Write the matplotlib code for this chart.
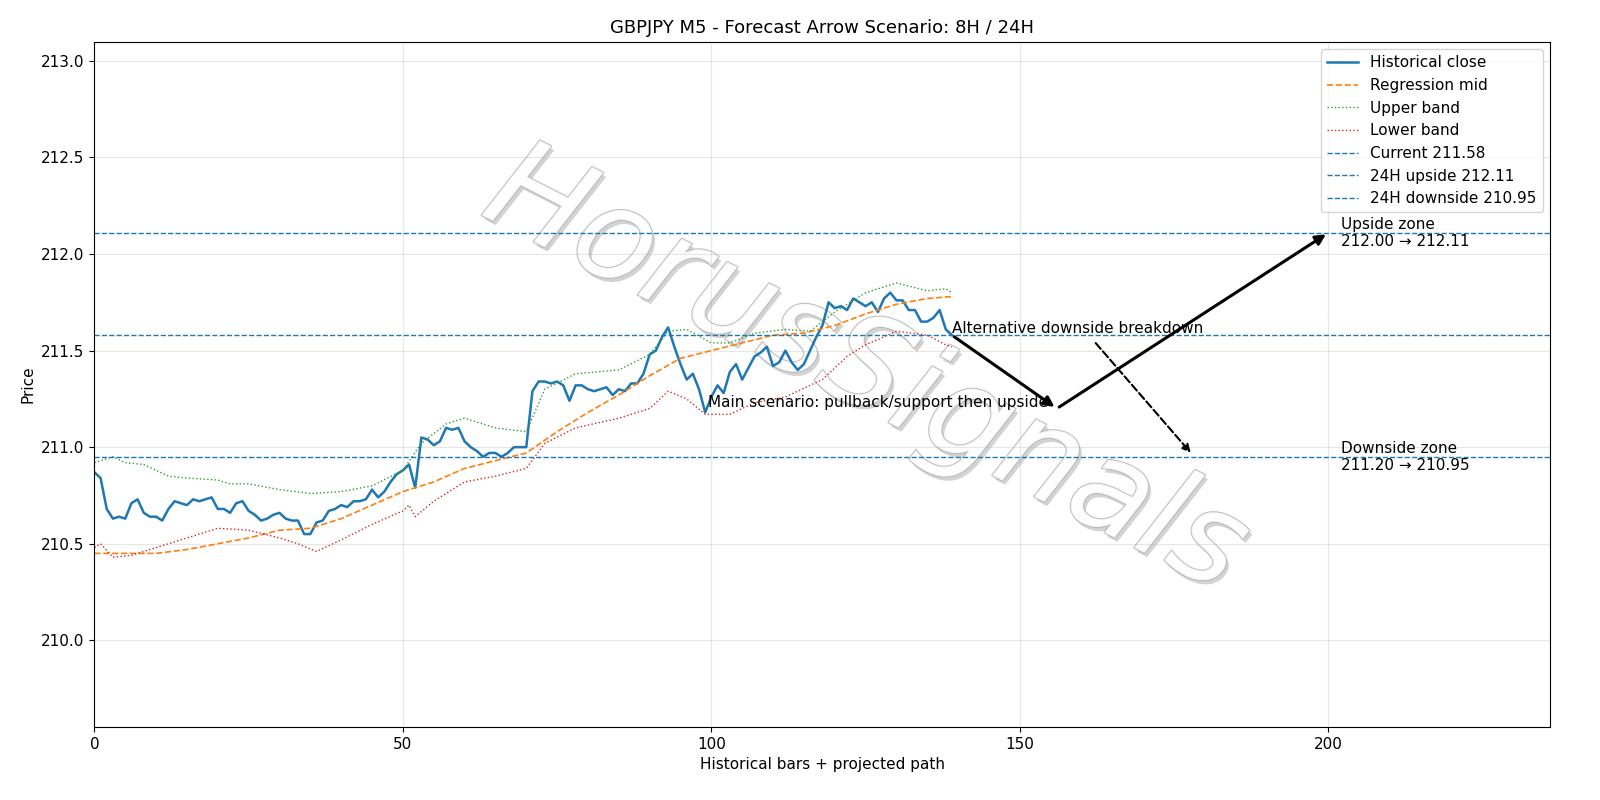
import matplotlib
matplotlib.use("Agg")
import matplotlib.pyplot as plt
import matplotlib.patheffects as pe

close = [210.87, 210.84, 210.68, 210.63, 210.64, 210.63, 210.71, 210.73, 210.66, 210.64,
         210.64, 210.62, 210.68, 210.72, 210.71, 210.70, 210.73, 210.72, 210.73, 210.74,
         210.68, 210.68, 210.66, 210.71, 210.72, 210.67, 210.65, 210.62, 210.63, 210.65,
         210.66, 210.63, 210.62, 210.62, 210.55, 210.55, 210.61, 210.62, 210.67, 210.68,
         210.70, 210.69, 210.72, 210.72, 210.73, 210.78, 210.74, 210.77, 210.82, 210.86,
         210.88, 210.91, 210.79, 211.05, 211.04, 211.01, 211.03, 211.10, 211.09, 211.10,
         211.03, 211.00, 210.98, 210.95, 210.97, 210.97, 210.95, 210.97, 211.00, 211.00,
         211.00, 211.29, 211.34, 211.34, 211.33, 211.34, 211.32, 211.24, 211.32, 211.32,
         211.30, 211.29, 211.30, 211.31, 211.27, 211.30, 211.29, 211.33, 211.33, 211.38,
         211.48, 211.50, 211.57, 211.62, 211.52, 211.43, 211.35, 211.38, 211.30, 211.18,
         211.26, 211.32, 211.28, 211.39, 211.43, 211.35, 211.41, 211.47, 211.49, 211.52,
         211.42, 211.44, 211.50, 211.44, 211.40, 211.43, 211.50, 211.57, 211.63, 211.75,
         211.72, 211.73, 211.71, 211.77, 211.75, 211.73, 211.75, 211.70, 211.77, 211.80,
         211.76, 211.76, 211.71, 211.71, 211.65, 211.65, 211.67, 211.71, 211.61, 211.58]

mid_x = [0, 5, 10, 15, 20, 25, 30, 35, 40, 45, 50, 55, 60, 65, 70, 75, 80, 85, 90, 95,
         100, 105, 110, 115, 120, 125, 130, 135, 139]
mid_y = [210.45, 210.45, 210.45, 210.47, 210.50, 210.53, 210.57, 210.58, 210.63, 210.70,
         210.77, 210.82, 210.89, 210.93, 210.97, 211.08, 211.18, 211.27, 211.37, 211.46,
         211.50, 211.54, 211.58, 211.59, 211.63, 211.69, 211.74, 211.77, 211.78]

up_x = [0, 3, 5, 8, 12, 15, 20, 22, 25, 30, 35, 40, 45, 50, 53, 57, 60, 65, 70, 73, 78,
        85, 90, 93, 96, 100, 103, 107, 112, 116, 120, 125, 130, 135, 138, 139]
up_y = [210.92, 210.95, 210.92, 210.91, 210.85, 210.84, 210.83, 210.81, 210.81, 210.78,
        210.76, 210.77, 210.80, 210.88, 211.02, 211.12, 211.15, 211.10, 211.08, 211.30,
        211.38, 211.40, 211.48, 211.60, 211.61, 211.54, 211.54, 211.59, 211.61, 211.60,
        211.70, 211.80, 211.85, 211.81, 211.82, 211.80]

lo_x = [0, 1, 3, 6, 10, 15, 20, 25, 30, 33, 36, 40, 45, 50, 51, 52, 55, 60, 65, 70, 73,
        78, 85, 90, 93, 96, 99, 103, 107, 112, 118, 122, 125, 130, 135, 138, 139]
lo_y = [210.48, 210.50, 210.43, 210.44, 210.48, 210.53, 210.58, 210.57, 210.53, 210.50,
        210.46, 210.52, 210.60, 210.67, 210.70, 210.64, 210.72, 210.82, 210.85, 210.89,
        211.02, 211.10, 211.15, 211.20, 211.29, 211.25, 211.17, 211.17, 211.23, 211.26,
        211.35, 211.47, 211.53, 211.60, 211.58, 211.53, 211.52]

current = 211.58
upside = 212.11
downside = 210.95
main_path_x = [139, 156, 200]
main_path_y = [211.58, 211.20, 212.11]
alt_path = [(162, 211.55), (178, 210.96)]

fig, ax = plt.subplots(figsize=(16, 8), dpi=100)
fig.subplots_adjust(left=0.059, right=0.969, top=0.948, bottom=0.091)
ax.plot(range(len(close)), close, color="tab:blue", lw=1.8, label="Historical close")
ax.plot(mid_x, mid_y, "--", color="tab:orange", lw=1.2, label="Regression mid")
ax.plot(up_x, up_y, ":", color="tab:green", lw=1.0, label="Upper band")
ax.plot(lo_x, lo_y, ":", color="tab:red", lw=1.0, label="Lower band")
ax.axhline(current, ls="--", color="tab:blue", lw=1.0, label=f"Current {current:.2f}")
ax.axhline(upside, ls="--", color="tab:blue", lw=1.0, label=f"24H upside {upside:.2f}")
ax.axhline(downside, ls="--", color="tab:blue", lw=1.0, label=f"24H downside {downside:.2f}")

# main scenario arrows
for i in range(2):
    ax.annotate("", xy=(main_path_x[i + 1], main_path_y[i + 1]),
                xytext=(main_path_x[i], main_path_y[i]),
                arrowprops=dict(arrowstyle="-|>", color="black", lw=2.2, mutation_scale=15))
ax.annotate("", xy=alt_path[1], xytext=alt_path[0],
            arrowprops=dict(arrowstyle="-|>", color="black", lw=1.5, ls="--", mutation_scale=12))

ax.text(99.5, 211.21, "Main scenario: pullback/support then upside", fontsize=11)
ax.text(139, 211.59, "Alternative downside breakdown", fontsize=11)
ax.text(202, 212.11, "Upside zone\n212.00 → 212.11", fontsize=11, va="center")
ax.text(202, 210.95, "Downside zone\n211.20 → 210.95", fontsize=11, va="center")

wm = ax.text(0.53, 0.52, "HorusSignals", transform=ax.transAxes, fontsize=92,
             color="white", alpha=0.85, rotation=-27, ha="center", va="center",
             style="italic", fontweight="light", zorder=0)
wm.set_path_effects([pe.withSimplePatchShadow(offset=(2, -3), shadow_rgbFace="#c8c8c8", alpha=0.8),
                     pe.Stroke(linewidth=1.5, foreground="#b5b5b5"), pe.Normal()])

ax.set_xlim(0, 236)
ax.set_ylim(209.55, 213.1)
ax.grid(True, alpha=0.3)
ax.set_title("GBPJPY M5 - Forecast Arrow Scenario: 8H / 24H", fontsize=13)
ax.set_xlabel("Historical bars + projected path", fontsize=11)
ax.set_ylabel("Price", fontsize=11)
ax.tick_params(labelsize=11)
ax.legend(loc="upper right", fontsize=11)
plt.savefig("out.png")
